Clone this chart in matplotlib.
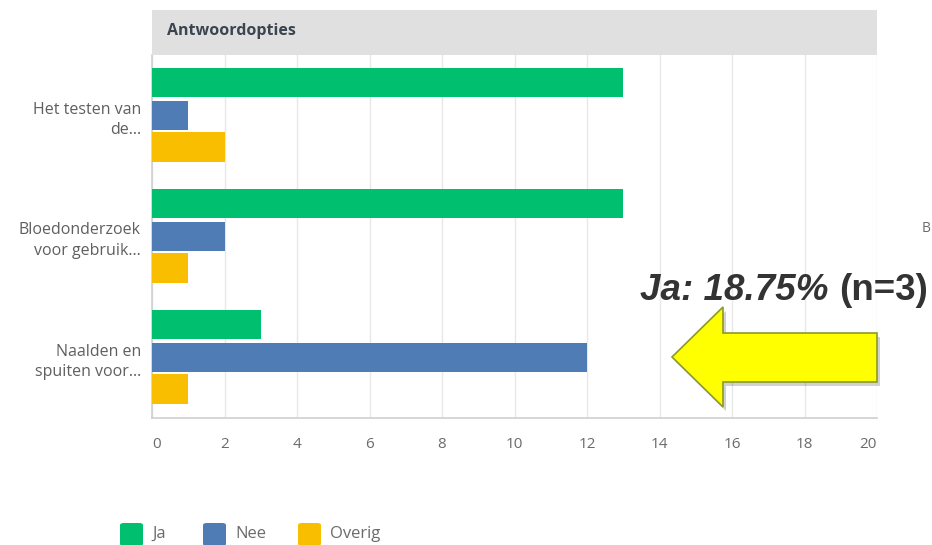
import matplotlib
matplotlib.use("Agg")
import matplotlib.pyplot as plt
from matplotlib.patches import Polygon, FancyBboxPatch, Rectangle
import numpy as np

categories = ["Het testen van\nde...", "Bloedonderzoek\nvoor gebruik...", "Naalden en\nspuiten voor..."]
series_names = ["Ja", "Nee", "Overig"]
ja = [13, 13, 3]
nee = [1, 2, 12]
overig = [2, 1, 1]
xticks = [0, 2, 4, 6, 8, 10, 12, 14, 16, 18, 20]
header_text = "Antwoordopties"
annot_italic = "Ja: 18.75%"
annot_plain = "(n=3)"

colors = ["#00BF6F", "#507CB6", "#F9BE00"]
W, H = 932, 545
fig = plt.figure(figsize=(W / 100, H / 100), dpi=100)
fig.patch.set_facecolor("white")

def fx(px):
    return px / W

def fy(py):
    return 1 - py / H

ax_l, ax_r, ax_t, ax_b = 152, 877, 55, 418
ax = fig.add_axes([fx(ax_l), fy(ax_b), fx(ax_r - ax_l), (ax_b - ax_t) / H])

y = np.arange(len(categories))
offsets = [-0.272, 0.0, 0.262]
h = 0.245
for vals, off, c, name in zip([ja, nee, overig], offsets, colors, series_names):
    ax.barh(y + off, vals, height=h, color=c, label=name, zorder=3)

ax.set_xlim(0, 20)
ax.set_ylim(2.5, -0.5)
ax.set_xticks(xticks)
ax.set_xticklabels([str(t) for t in xticks], fontsize=11, color="#6b6b6b", family="Open Sans")
xl = ax.get_xticklabels()
xl[0].set_ha("left")
xl[-1].set_ha("right")
ax.tick_params(axis="x", length=0, pad=14)
ax.set_yticks(y)
ax.set_yticklabels(categories, fontsize=11.5, color="#5f5f5f", family="Open Sans", linespacing=1.4)
ax.tick_params(axis="y", length=0, pad=8)
ax.grid(axis="x", color="#e8e8e8", linewidth=1, zorder=0)
for s in ["top", "right"]:
    ax.spines[s].set_visible(False)
for s in ["left", "bottom"]:
    ax.spines[s].set_color("#cfcfcf")
    ax.spines[s].set_linewidth(1.2)

# header band
fig.patches.append(Rectangle((fx(152), fy(55)), fx(877 - 152), (55 - 10) / H,
                             transform=fig.transFigure, facecolor="#e0e0e0", edgecolor="none"))
fig.text(fx(167), fy(31), header_text, fontsize=11.5, fontweight="bold", color="#3b4550",
         family="Open Sans", va="center", ha="left")

# legend
leg_x = [120, 203, 298]
for xx, c, name in zip(leg_x, colors, series_names):
    fig.patches.append(FancyBboxPatch((fx(xx), fy(546)), fx(23), 23 / H,
                                      boxstyle="round,pad=0,rounding_size=0.004",
                                      transform=fig.transFigure, facecolor=c, edgecolor="none"))
    fig.text(fx(xx + 32), fy(534), name, fontsize=12, color="#6b6b6b", family="Open Sans",
             va="center", ha="left")

# clipped text at right edge
fig.text(fx(922), fy(228), "B", fontsize=10, color="#6b6b6b", family="Open Sans", va="center", ha="left")

# annotation text
t1 = fig.text(fx(640), fy(291), annot_italic, fontsize=26.5, fontweight="bold", fontstyle="italic",
              color="#333333", family="Liberation Sans", va="center", ha="left")
fig.canvas.draw()
bb = t1.get_window_extent()
fig.text(bb.x1 / W + fx(11), fy(291), annot_plain, fontsize=26.5, fontweight="bold",
         color="#333333", family="Liberation Sans", va="center", ha="left")

# arrow
pts = [(672, 357), (723, 307), (723, 333), (877, 333), (877, 382), (723, 382), (723, 407)]
shadow = [(fx(px + 3), fy(py + 4)) for px, py in pts]
fig.patches.append(Polygon(shadow, closed=True, transform=fig.transFigure,
                           facecolor="#000000", alpha=0.18, edgecolor="none"))
fig.patches.append(Polygon([(fx(px), fy(py)) for px, py in pts], closed=True,
                           transform=fig.transFigure, facecolor="#FFFF00",
                           edgecolor="#8a9a2a", linewidth=1.2))

fig.savefig("out.png", dpi=100)
